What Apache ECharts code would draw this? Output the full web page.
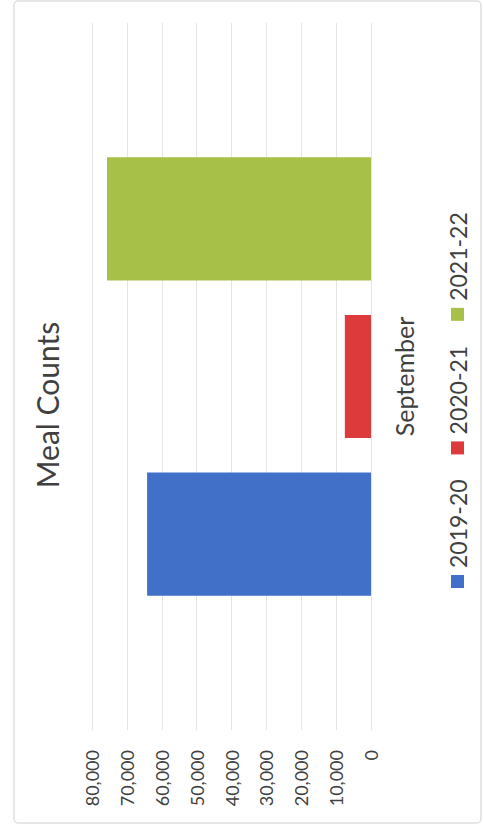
<!DOCTYPE html>
<html>
<head>
<meta charset="utf-8">
<script src="https://cdn.jsdelivr.net/npm/echarts@6/dist/echarts.min.js"></script>
<style>
  html, body { margin: 0; padding: 0; width: 483px; height: 839px; overflow: hidden; background: #ffffff; }
  #chart { position: absolute; width: 839px; height: 483px; left: -178px; top: 178px; transform: rotate(-90deg); transform-origin: 50% 50%; }
</style>
</head>
<body>
<div id="chart"></div>
<script>
const categories = ['September'];
const seriesNames = ['2019-20', '2020-21', '2021-22'];
const values2019 = [64200];
const values2020 = [7500];
const values2021 = [75700];
const yTicks = [0, 10000, 20000, 30000, 40000, 50000, 60000, 70000, 80000];
const colors = ['#4070C8', '#DC3A3B', '#A7C148'];

const seriesValues = [values2019, values2020, values2021];
const font = 'Lato, "Open Sans", sans-serif';

const chart = echarts.init(document.getElementById('chart'), null, { renderer: 'svg' });
chart.setOption({
  animation: false,
  backgroundColor: '#ffffff',
  color: colors,
  title: {
    text: 'Meal Counts',
    left: 429,
    textAlign: 'center',
    top: 27,
    textStyle: { fontFamily: font, fontWeight: 'normal', fontSize: 30, color: '#404040' }
  },
  legend: {
    data: seriesNames,
    left: 246,
    top: 441,
    itemWidth: 13,
    itemHeight: 13,
    itemGap: 25,
    icon: 'rect',
    textStyle: { fontFamily: font, fontSize: 23, color: '#404040', padding: [0, 0, 0, 2] }
  },
  graphic: [{
    type: 'rect',
    shape: { x: 16, y: 14, width: 822, height: 467, r: 4 },
    style: { fill: 'none', stroke: '#dedede', lineWidth: 1.5 },
    silent: true
  }],
  grid: { left: 109, right: 23, top: 92, bottom: 112, containLabel: false },
  xAxis: {
    type: 'category',
    data: categories,
    axisLine: { show: false },
    axisTick: { show: false },
    axisLabel: { margin: 20, fontFamily: font, fontSize: 25, color: '#404040' }
  },
  yAxis: {
    type: 'value',
    min: yTicks[0],
    max: yTicks[yTicks.length - 1],
    interval: yTicks[1] - yTicks[0],
    axisLine: { show: false },
    axisTick: { show: false },
    splitLine: { lineStyle: { color: '#e4e4e4', width: 1 } },
    axisLabel: {
      margin: 20,
      fontFamily: font,
      fontSize: 18,
      color: '#404040',
      formatter: v => v.toLocaleString('en-US')
    }
  },
  series: seriesNames.map((name, i) => ({
    name: name,
    type: 'bar',
    data: seriesValues[i],
    barCategoryGap: '38%',
    barGap: '28%',
    itemStyle: { color: colors[i] }
  }))
});
</script>
</body>
</html>
